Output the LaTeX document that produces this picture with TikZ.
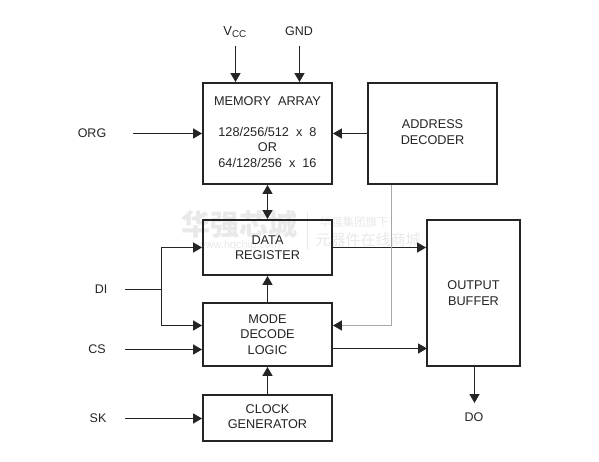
\documentclass[tikz,border=0pt]{standalone}
\usepackage{fontspec}
\setmainfont{Liberation Sans}
\newfontfamily\cjkfont{Noto Sans CJK SC}
\usetikzlibrary{arrows.meta}
\definecolor{ink}{HTML}{262425}
\definecolor{wm}{HTML}{E9E9E9}
\definecolor{gline}{HTML}{A8A8A8}
\tikzset{
  x=1pt,y=-1pt,
  block/.style={draw=ink,line width=1.9pt,fill=none,inner sep=0pt,align=center,font=\fontsize{12.7}{15.4}\selectfont,text=ink},
  lifted/.style={text depth=3pt},
  lbl/.style={font=\fontsize{12.5}{14}\selectfont,text=ink,inner sep=0pt},
  wire/.style={draw=ink,line width=1.3pt},
  arr/.style={wire,-{Triangle[length=9pt,width=10pt]}},
  biarr/.style={wire,{Triangle[length=9pt,width=10pt]}-{Triangle[length=9pt,width=10pt]}},
  addrwire/.style={draw=gline,line width=1.3pt},
  wmtext/.style={text=wm,inner sep=0pt,font=\cjkfont},
}
\begin{document}
\begin{tikzpicture}
\useasboundingbox[fill=white] (0,0) rectangle (599,462);
% watermark
\node[wmtext,font=\cjkfont\bfseries\fontsize{29}{29}\selectfont] (wm1) at (239,224) {华强芯城};
\node[wmtext,font=\fontsize{11}{11}\selectfont] (wm2) at (239,246) {www.hqchip.com};
\node[wmtext,font=\cjkfont\fontsize{11.5}{12}\selectfont] (wm3) at (354,222) {华强集团旗下};
\node[wmtext,font=\cjkfont\fontsize{15}{15}\selectfont] (wm4) at (368,240) {元器件在线商城};
\coordinate (wmA) at (307,212);
\coordinate (wmB) at (307,250);
\draw[wm,line width=0.8pt] (wmA) -- (wmB);
% blocks
\node[block,lifted,minimum width=129pt,minimum height=101pt] (mem) at (267.5,133.5)
  {MEMORY\ \ ARRAY\\\mbox{}\\128/256/512\ \ x\ \ 8\\OR\\64/128/256\ \ x\ \ 16};
\node[block,lifted,line width=1.7pt,minimum width=129pt,minimum height=101pt] (addr) at (432.5,133.5) {ADDRESS\\DECODER};
\node[block,minimum width=129pt,minimum height=55pt] (data) at (267.5,247.5) {DATA\\REGISTER};
\node[block,minimum width=129pt,minimum height=63pt] (mode) at (267.5,334.5) {MODE\\DECODE\\LOGIC};
\node[block,lifted,minimum width=129pt,minimum height=46pt] (clock) at (267.5,418) {CLOCK\\GENERATOR};
\node[block,minimum width=93pt,minimum height=146pt] (out) at (473.5,293) {OUTPUT\\BUFFER};
% labels
\node[lbl] (vcc) at (235,32) {\fontsize{13}{13}\selectfont V\textsubscript{\fontsize{9.8}{9.8}\selectfont CC}};
\node[lbl] (gnd) at (299,31) {GND};
\node[lbl] (org) at (92,133) {ORG};
\node[lbl] (di) at (101,289) {DI};
\node[lbl] (cs) at (97,349) {CS};
\node[lbl] (sk) at (98,418) {SK};
\node[lbl] (do) at (474,417) {DO};
% free ends
\coordinate (vccS) at (235.5,46);
\coordinate (gndS) at (299.5,46);
\coordinate (orgS) at (133,133.5);
\coordinate (diS) at (125,289.5);
\coordinate (diJ) at (161.5,289.5);
\coordinate (csS) at (125,349.5);
\coordinate (skS) at (125,418.5);
\coordinate (doE) at (474.5,403);
\coordinate (addrX) at (391.5,325.5);
\coordinate (diD) at (161.5,247.5);
\coordinate (diM) at (161.5,325.5);
\coordinate (outY) at (427,348.5);
% connectors
\draw[arr] (vccS) -- (vccS |- mem.north);
\draw[arr] (gndS) -- (gndS |- mem.north);
\draw[arr] (orgS) -- (orgS -| mem.west);
\draw[arr] (addr.west) -- (mem.east);
\draw[biarr] (mem.south) -- (data.north);
\draw[arr] (data.east) -- (out.west |- data.east);
\draw[wire] (diS) -- (diJ);
\draw[arr] (diJ) -- (diD) -- (diD -| data.west);
\draw[arr] (diJ) -- (diM) -- (diM -| mode.west);
\draw[arr] (csS) -- (csS -| mode.west);
\draw[arr] (skS) -- (skS -| clock.west);
\draw[arr] (mode.north) -- (data.south);
\draw[arr] (clock.north) -- (mode.south);
\draw[addrwire] (addrX |- addr.south) -- (addrX);
\draw[addrwire,-{Triangle[length=9pt,width=10pt,color=ink]}] (addrX) -- (addrX -| mode.east);
\draw[arr] (outY -| mode.east) -- (outY);
\draw[arr] (doE |- out.south) -- (doE);
\end{tikzpicture}
\end{document}
